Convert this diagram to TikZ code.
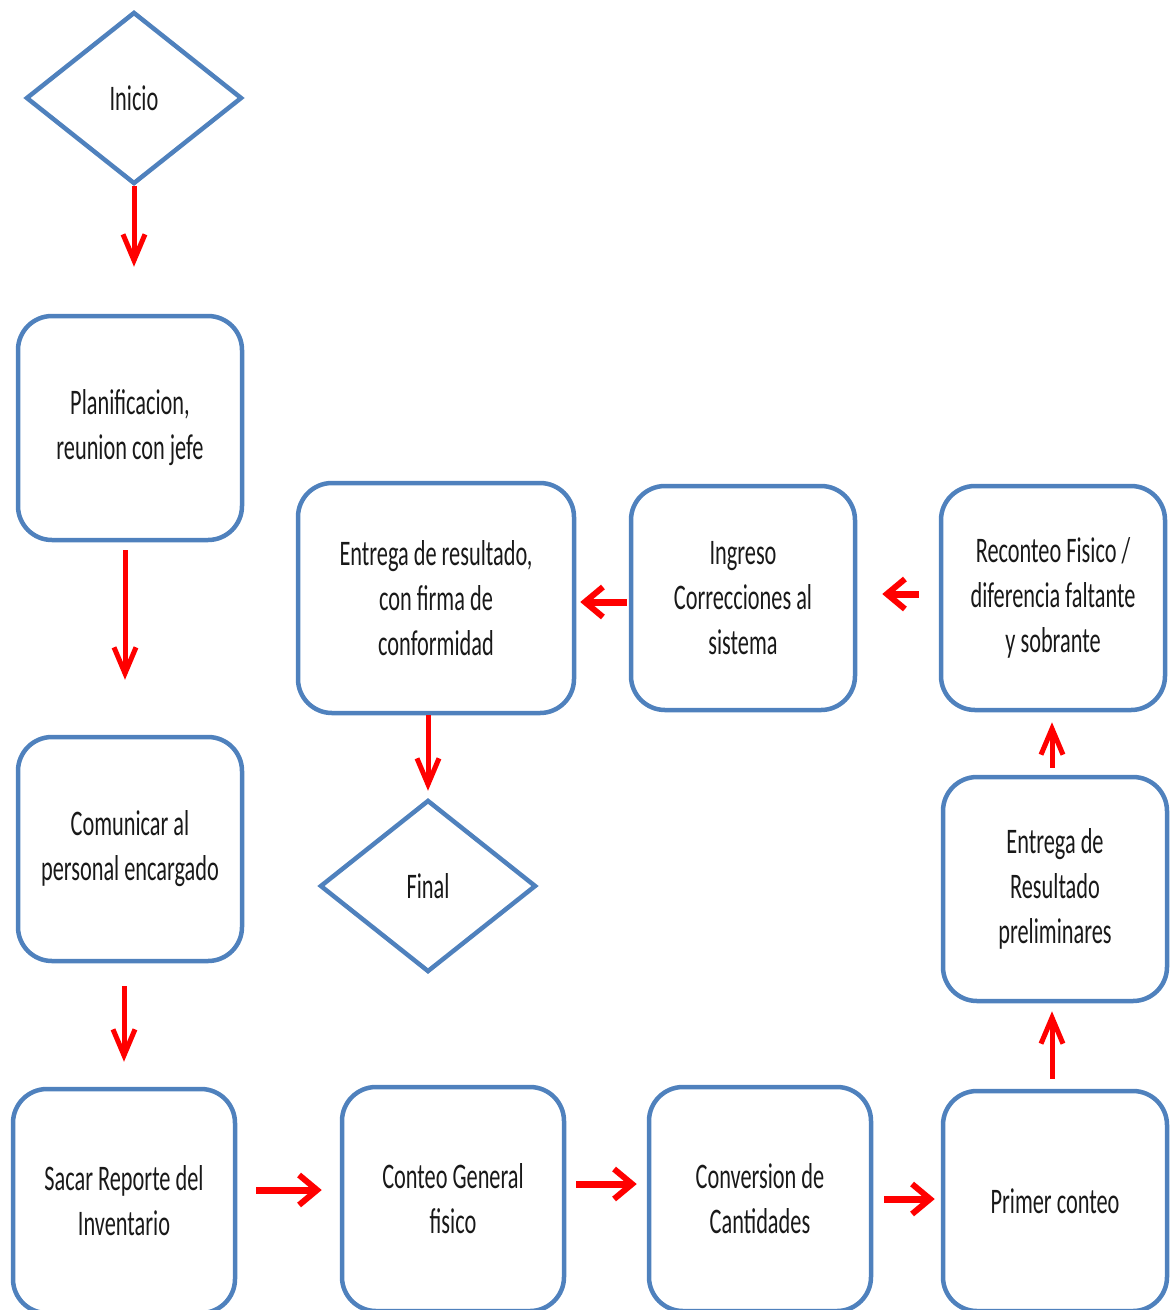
\documentclass[tikz,border=0pt]{standalone}
\usepackage{fontspec}
\setmainfont{Carlito}[FakeStretch=0.62]
\usetikzlibrary{positioning, arrows.meta, shapes.geometric}
\definecolor{flowblue}{HTML}{4F81BD}
\definecolor{flowred}{HTML}{FF0000}

\begin{document}
\begin{tikzpicture}[
      x=1pt, y=-1pt,
      every node/.style={font=\fontsize{36}{45}\selectfont, text=black!90},
      procbox/.style={draw=flowblue, line width=4.5pt, rounded corners=34pt,
                      minimum width=224pt, minimum height=224pt, align=center},
      decision/.style={draw=flowblue, line width=4.5pt, diamond, aspect=1.25,
                       minimum width=216pt, minimum height=172pt, inner sep=0pt},
      flowv/.style={draw=flowred, line width=5pt,
                    -{Straight Barb[length=26pt, width=22pt, line width=5pt]}},
      flowh/.style={draw=flowred, line width=7pt,
                    -{Straight Barb[length=18pt, width=30pt, line width=6pt]}},
    ]
    \useasboundingbox (0,0) rectangle (1174,1310);

    % Left column
    \node[decision] (inicio) at (134,98)  {Inicio};
    \node[procbox]  (plan)   at (130,428) {Planificacion,\\reunion con jefe};
    \node[procbox]  (comm)   at (130,849) {Comunicar al\\personal encargado};
    % Bottom row
    \node[procbox, minimum width=222pt] (sacar)  at (124,1201) {Sacar Reporte del\\Inventario};
    \node[procbox, minimum width=222pt] (conteo) at (453,1199) {Conteo General\\fisico};
    \node[procbox, minimum width=222pt] (conv)   at (760,1199) {Conversion de\\Cantidades};
    \node[procbox, minimum height=220pt] (primer) at (1055,1201) {Primer conteo};
    % Right column
    \node[procbox] (prelim) at (1055,889) {Entrega de\\Resultado\\preliminares};
    \node[procbox] (recont) at (1053,598) {Reconteo Fisico /\\diferencia faltante\\y sobrante};
    % Top row
    \node[procbox] (ingreso) at (743,598) {Ingreso\\Correcciones al\\sistema};
    \node[procbox, minimum width=276pt, minimum height=230pt] (entrega) at (436,598)
      {Entrega de resultado,\\con firma de\\conformidad};
    \node[decision] (final) at (428,886) {Final};

    \draw[flowv, shorten >=47pt] (inicio.south) -- (inicio.south |- plan.north);
    \draw[flowv, shorten <=8pt, shorten >=55pt] ([xshift=-5pt]plan.south) -- ([xshift=-5pt]comm.north);
    \draw[flowv, shorten <=23pt, shorten >=25pt] (sacar.north |- comm.south) -- (sacar.north);
    \draw[flowh, shorten <=19pt, shorten >=18pt] ([yshift=11pt]sacar.east) -- ([yshift=9pt]conteo.west);
    \draw[flowh, shorten <=10pt, shorten >=10pt] ([yshift=15pt]conteo.east) -- ([yshift=15pt]conv.west);
    \draw[flowh, shorten <=11pt, shorten >=6pt] (conv.east) -- (conv.east -| primer.west);
    \draw[flowv, shorten <=10pt, shorten >=8pt] ([xshift=-3pt]primer.north) -- ([xshift=-3pt]prelim.south);
    \draw[flowv, shorten <=7pt, shorten >=10pt] ([xshift=-3pt]prelim.north) -- ([xshift=-1pt]recont.south);
    \draw[flowh, shorten <=20pt, shorten >=25pt] ([yshift=4pt]recont.west) -- ([yshift=4pt]ingreso.east);
    \draw[flowh, shorten <=2pt, shorten >=4pt] ([yshift=-4pt]ingreso.west) -- ([yshift=-4pt]entrega.east);
    \draw[flowv, shorten >=7pt] ([xshift=-8pt]entrega.south) -- (final.north);
  \end{tikzpicture}
\end{document}
